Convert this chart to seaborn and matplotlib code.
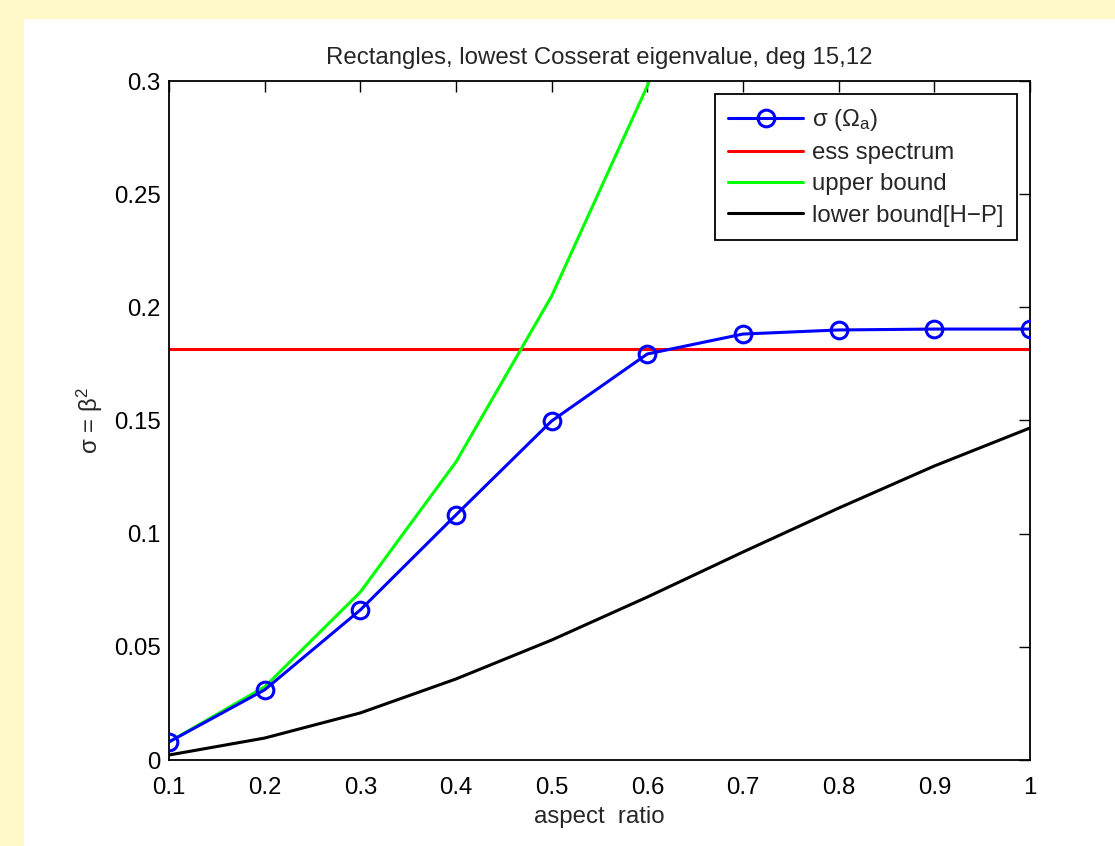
import numpy as np
import pandas as pd
import matplotlib
matplotlib.use('Agg')
import matplotlib.pyplot as plt
import seaborn as sns
from matplotlib.patches import Rectangle

# === Datos ===
aspect = [0.1, 0.2, 0.3, 0.4, 0.5, 0.6, 0.7, 0.8, 0.9, 1.0]
sigma = [0.0080, 0.0310, 0.0663, 0.1083, 0.1498, 0.1794, 0.1882, 0.1900, 0.1904, 0.1904]
upper = [0.0080, 0.0323, 0.0742, 0.1317, 0.2050, 0.2978, 0.4100]
upper_x = aspect[:len(upper)]
lower = [0.0022, 0.0097, 0.0208, 0.0358, 0.0530, 0.0720, 0.0919, 0.1113, 0.1299, 0.1467]
ess = 0.1816

sns.set_style('white')
plt.rcParams['font.family'] = ['Liberation Sans', 'DejaVu Sans']
plt.rcParams['mathtext.fontset'] = 'custom'
plt.rcParams['mathtext.rm'] = 'Liberation Sans'
plt.rcParams['mathtext.it'] = 'Liberation Sans:italic'

FS = 17.3

fig = plt.figure(figsize=(11.15, 8.46), dpi=100, facecolor='#fff8c8')
fig.patches.append(Rectangle((24 / 1115, 0), 1 - 24 / 1115, 1 - 19 / 846,
                             transform=fig.transFigure, facecolor='white',
                             edgecolor='none', zorder=-10))
ax = fig.add_axes([169 / 1115, 86 / 846, 861 / 1115, 679 / 846])
ax.set_facecolor('white')

sns.lineplot(x=aspect, y=sigma, ax=ax, color='#0000ff', lw=2.2, marker='o',
             markersize=12, markerfacecolor='none', markeredgecolor='#0000ff',
             markeredgewidth=2.2, label=r'$\mathrm{σ\ (Ω_a)}$', zorder=5)
ax.axhline(ess, color='#ff0000', lw=2.2, label='ess spectrum')
sns.lineplot(x=upper_x, y=upper, ax=ax, color='#00ff00', lw=2.2, label='upper bound')
sns.lineplot(x=aspect, y=lower, ax=ax, color='black', lw=2.2, label='lower bound[H\u2212P]')

ax.set_xlim(0.1, 1.0)
ax.set_ylim(0, 0.3)
ax.set_xticks(np.arange(0.1, 1.01, 0.1))
ax.set_xticklabels(['0.1', '0.2', '0.3', '0.4', '0.5', '0.6', '0.7', '0.8', '0.9', '1'])
ax.set_yticks(np.arange(0, 0.301, 0.05))
ax.set_yticklabels(['0', '0.05', '0.1', '0.15', '0.2', '0.25', '0.3'])
ax.tick_params(direction='in', length=8, width=1, top=True, right=True,
               labelsize=FS, colors='black')
ax.tick_params(axis='y', pad=6)
ax.tick_params(axis='x', pad=12)
for s in ax.spines.values():
    s.set_color('black')
    s.set_linewidth(1.3)

ax.set_title('Rectangles, lowest Cosserat eigenvalue, deg 15,12', fontsize=FS, pad=12)
ax.set_xlabel('aspect  ratio', fontsize=FS, labelpad=5)
ax.set_ylabel(r'σ = β$^2$', fontsize=FS)
ax.yaxis.set_label_coords(-0.074, 0.5)

leg = ax.legend(loc='upper right', bbox_to_anchor=(0.985, 0.981), fontsize=FS,
                frameon=True, fancybox=False, framealpha=1, edgecolor='black',
                handlelength=3.1, borderpad=0.55, labelspacing=0.38, handletextpad=0.4,
                borderaxespad=0)
leg.get_frame().set_linewidth(1.3)

fig.savefig('out.png', dpi=100, facecolor=fig.get_facecolor())
